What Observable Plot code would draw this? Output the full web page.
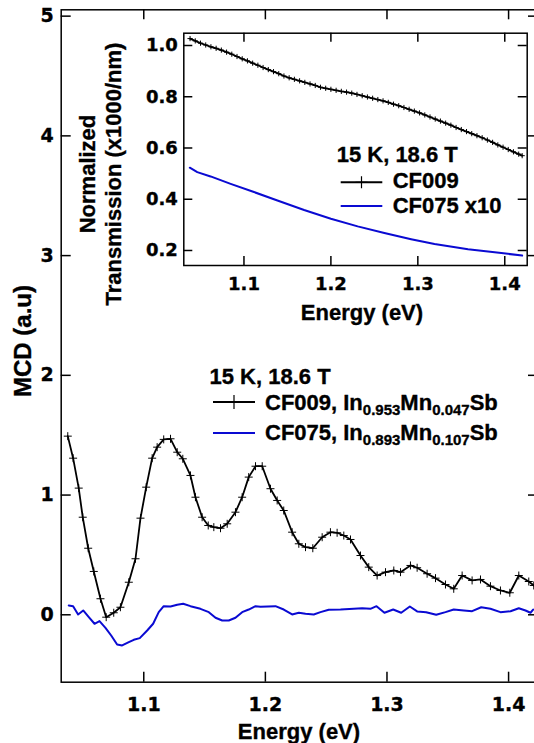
<!DOCTYPE html>
<html><head><meta charset="utf-8">
<script src="https://cdn.jsdelivr.net/npm/d3@7"></script>
<script src="https://cdn.jsdelivr.net/npm/@observablehq/plot@0.6"></script>
<style>
html,body{margin:0;padding:0;background:#fff;overflow:hidden;}
#fig{position:relative;width:534px;height:743px;overflow:hidden;background:#fff;}
#fig svg{position:absolute;left:0;top:0;max-width:none;}
#fig text{stroke:black;stroke-width:0.35px;}
</style></head><body><div id="fig"></div>
<script>
// ---------- data ----------
const mainXTicks = [1.1, 1.2, 1.3, 1.4];
const mainYTicks = [0, 1, 2, 3, 4, 5];
const insetXTicks = [1.1, 1.2, 1.3, 1.4];
const insetYTicks = [0.2, 0.4, 0.6, 0.8, 1.0];

// MCD, CF009 (In0.953Mn0.047Sb)
const cf009E = [1.0375,1.0419,1.0465,1.0498,1.0543,1.0589,1.0644,1.0691,1.0753,1.0808,1.0877,1.0932,1.0973,1.1020,1.1069,1.1110,1.1164,1.1220,1.1275,1.1321,1.1384,1.1425,1.1480,1.1530,1.1576,1.1631,1.1686,1.1754,1.1809,1.1863,1.1919,1.1974,1.2042,1.2097,1.2151,1.2220,1.2275,1.2330,1.2390,1.2467,1.2535,1.2590,1.2645,1.2700,1.2782,1.2850,1.2919,1.2988,1.3056,1.3111,1.3193,1.3248,1.3330,1.3399,1.3481,1.3549,1.3618,1.3700,1.3769,1.3851,1.3933,1.4010,1.4084,1.4166,1.4207];
const cf009MCD = [1.492,1.308,1.058,0.815,0.556,0.362,0.134,-0.020,0.017,0.063,0.272,0.468,0.807,1.066,1.308,1.400,1.465,1.470,1.358,1.303,1.164,0.982,0.815,0.746,0.732,0.723,0.760,0.857,0.982,1.150,1.241,1.241,1.053,0.955,0.871,0.690,0.593,0.565,0.556,0.648,0.690,0.685,0.662,0.629,0.495,0.398,0.328,0.356,0.370,0.356,0.412,0.393,0.343,0.306,0.253,0.217,0.328,0.287,0.295,0.239,0.203,0.184,0.328,0.278,0.245];

// MCD, CF075 (In0.893Mn0.107Sb)
const cf075E = [1.0383,1.0419,1.0460,1.0502,1.0548,1.0595,1.0636,1.0685,1.0732,1.0781,1.0822,1.0877,1.0918,1.0967,1.1028,1.1077,1.1123,1.1164,1.1220,1.1275,1.1324,1.1384,1.1466,1.1535,1.1590,1.1645,1.1699,1.1754,1.1809,1.1863,1.1919,1.1960,1.2083,1.2151,1.2220,1.2275,1.2330,1.2398,1.2453,1.2521,1.2618,1.2727,1.2796,1.2864,1.2914,1.2979,1.3051,1.3117,1.3188,1.3248,1.3322,1.3405,1.3481,1.3549,1.3632,1.3700,1.3775,1.3851,1.3933,1.4016,1.4084,1.4139,1.4180,1.4202];
const cf075MCD = [0.078,0.072,0.003,0.036,-0.020,-0.075,-0.053,-0.109,-0.173,-0.248,-0.256,-0.229,-0.209,-0.195,-0.131,-0.075,0.022,0.072,0.069,0.084,0.092,0.072,0.050,0.022,-0.025,-0.048,-0.048,-0.025,0.022,0.044,0.072,0.068,0.072,0.044,0.003,0.017,0.008,0.003,0.022,0.042,0.044,0.050,0.055,0.050,0.072,0.017,0.044,0.017,0.069,0.028,0.022,0.000,0.022,0.044,0.036,0.030,0.063,0.050,0.022,0.030,0.055,0.036,0.017,0.044];

// Inset: normalized transmission, CF009
const trans009E = [1.038,1.044,1.050,1.056,1.062,1.068,1.074,1.080,1.086,1.092,1.098,1.104,1.110,1.116,1.122,1.128,1.134,1.140,1.146,1.152,1.158,1.164,1.170,1.176,1.182,1.188,1.194,1.200,1.206,1.212,1.218,1.224,1.230,1.236,1.242,1.248,1.254,1.260,1.266,1.272,1.278,1.284,1.290,1.296,1.302,1.308,1.314,1.320,1.326,1.332,1.338,1.344,1.350,1.356,1.362,1.368,1.374,1.380,1.386,1.392,1.398,1.404,1.410,1.416,1.420];
const trans009T = [1.027,1.018,1.009,1.002,0.995,0.989,0.982,0.974,0.966,0.957,0.948,0.940,0.931,0.923,0.914,0.906,0.898,0.890,0.881,0.874,0.868,0.862,0.856,0.850,0.844,0.837,0.833,0.829,0.825,0.821,0.818,0.814,0.809,0.804,0.799,0.794,0.789,0.784,0.778,0.771,0.765,0.758,0.751,0.744,0.737,0.729,0.721,0.713,0.705,0.697,0.689,0.680,0.672,0.664,0.656,0.648,0.640,0.631,0.622,0.612,0.603,0.594,0.585,0.576,0.570];

// Inset: normalized transmission, CF075 x10
const trans075E = [1.0377,1.0463,1.0616,1.0847,1.1115,1.1385,1.1692,1.2000,1.2308,1.2615,1.2923,1.3192,1.3577,1.3960,1.4200];
const trans075T = [0.523,0.506,0.489,0.460,0.428,0.395,0.358,0.324,0.294,0.268,0.244,0.225,0.205,0.190,0.180];

const legendTitle = "15 K, 18.6 T";
const xTitle = "Energy (eV)";
const yTitle = "MCD (a.u)";
const insetYTitle = ["Normalized", "Transmission (x1000/nm)"];
const insetNames = ["CF009", "CF075 x10"];

// ---------- build ----------
const BLUE = "#0a0ad2";
const zip = (E, V) => E.map((e, i) => ({e, v: V[i]}));
const cf009 = zip(cf009E, cf009MCD), cf075 = zip(cf075E, cf075MCD);
const t009 = zip(trans009E, trans009T), t075 = zip(trans075E, trans075T);

const plusSymbol = {draw(ctx, size) { const r = Math.sqrt(size / Math.PI); ctx.moveTo(-r, 0); ctx.lineTo(r, 0); ctx.moveTo(0, -r); ctx.lineTo(0, r); }};
const baseStyle = {fontFamily: "DejaVu Sans", fontWeight: "bold", color: "black", background: "transparent", overflow: "visible", maxWidth: "none"};

// inward ticks on all four sides, drawn as tick marks inset from the frame
function inwardTicks(xt, yt, W, H, len, sw) {
  const id = d => d;
  return [
    Plot.tickX(xt, {x: id, insetTop: H - len, stroke: "black", strokeWidth: sw}),
    Plot.tickX(xt, {x: id, insetBottom: H - len, stroke: "black", strokeWidth: sw}),
    Plot.tickY(yt, {y: id, insetRight: W - len, stroke: "black", strokeWidth: sw}),
    Plot.tickY(yt, {y: id, insetLeft: W - len, stroke: "black", strokeWidth: sw})
  ];
}

const M = {w: 538, h: 743, l: 60.7, r: 0, t: 9.3, b: 61.3};
const main = Plot.plot({
  width: M.w, height: M.h,
  marginLeft: M.l, marginRight: M.r, marginTop: M.t, marginBottom: M.b,
  style: {...baseStyle, fontSize: "19px"},
  x: {domain: [1.0321, 1.4246]},
  y: {domain: [-0.563, 5.053]},
  marks: [
    ...inwardTicks(mainXTicks, mainYTicks, M.w - M.l - M.r, M.h - M.t - M.b, 10, 1.5),
    Plot.frame({stroke: "black", strokeWidth: 1.5}),
    Plot.axisX(mainXTicks, {anchor: "bottom", tickSize: 0, tickPadding: 15, tickFormat: d3.format(".1f"), label: null}),
    Plot.axisY(mainYTicks, {anchor: "left", tickSize: 0, tickPadding: 7.4, tickFormat: d3.format("d"), label: null}),
    Plot.line(cf075, {x: "e", y: "v", stroke: BLUE, strokeWidth: 2}),
    Plot.line(cf009, {x: "e", y: "v", stroke: "black", strokeWidth: 1.8}),
    Plot.dot(cf009, {x: "e", y: "v", symbol: plusSymbol, r: 4, stroke: "black", strokeWidth: 1, fill: "none"})
  ]
});

const I = {w: 534, h: 330, l: 183.3, r: 7.3, t: 32.7, b: 65};
const inset = Plot.plot({
  width: I.w, height: I.h,
  marginLeft: I.l, marginRight: I.r, marginTop: I.t, marginBottom: I.b,
  style: {...baseStyle, fontSize: "18px"},
  x: {domain: [1.0308, 1.4258]},
  y: {domain: [0.1414, 1.048]},
  marks: [
    ...inwardTicks(insetXTicks, insetYTicks, I.w - I.l - I.r, I.h - I.t - I.b, 9, 1.5),
    Plot.frame({stroke: "black", strokeWidth: 1.5}),
    Plot.axisX(insetXTicks, {anchor: "bottom", tickSize: 0, tickPadding: 12, tickFormat: d3.format(".1f"), label: null}),
    Plot.axisY(insetYTicks, {anchor: "left", tickSize: 0, tickPadding: 6, tickFormat: d3.format(".1f"), label: null}),
    Plot.line(t075, {x: "e", y: "v", stroke: BLUE, strokeWidth: 2}),
    Plot.line(t009, {x: "e", y: "v", stroke: "black", strokeWidth: 1.8}),
    Plot.dot(t009, {x: "e", y: "v", symbol: plusSymbol, r: 2.6, stroke: "black", strokeWidth: 1, fill: "none"})
  ]
});

const fig = document.getElementById("fig");
fig.appendChild(main);
fig.appendChild(inset);

// ---------- titles and legends ----------
const ov = d3.create("svg").attr("width", 534).attr("height", 743)
  .style("font-family", "'Liberation Sans', Arial, sans-serif").style("font-weight", "bold").style("font-size", "22px").attr("fill", "black");

ov.append("text").attr("x", 299).attr("y", 739).attr("text-anchor", "middle").text(xTitle);
ov.append("text").attr("transform", "translate(31,341) rotate(-90)").attr("text-anchor", "middle").attr("font-size", "24px").text(yTitle);
ov.append("text").attr("x", 362).attr("y", 320).attr("text-anchor", "middle").text(xTitle);
ov.append("text").attr("transform", "translate(95,174) rotate(-90)").attr("text-anchor", "middle").text(insetYTitle[0]);
ov.append("text").attr("transform", "translate(121,174) rotate(-90)").attr("text-anchor", "middle").text(insetYTitle[1]);

function plusAt(g, x, y, r) {
  g.append("path").attr("d", `M${x - r},${y}H${x + r}M${x},${y - r}V${y + r}`).attr("stroke", "black").attr("stroke-width", 1.2).attr("fill", "none");
}
function sample(g, x1, x2, y, color, withPlus, r) {
  g.append("line").attr("x1", x1).attr("x2", x2).attr("y1", y).attr("y2", y).attr("stroke", color).attr("stroke-width", 2);
  if (withPlus) plusAt(g, (x1 + x2) / 2, y, r);
}
function formula(t, parts) {
  parts.forEach(([s, sub], i) => {
    const ts = t.append("tspan").text(s);
    if (sub) ts.attr("font-size", "15px").attr("dy", 5);
    else if (i > 0 && parts[i - 1][1]) ts.attr("dy", -5);
  });
}

// main legend
ov.append("text").attr("x", 209.5).attr("y", 384).text(legendTitle);
sample(ov, 213, 255, 402, "black", true, 7);
formula(ov.append("text").attr("x", 265).attr("y", 409.5), [["CF009, In"], ["0.953", 1], ["Mn"], ["0.047", 1], ["Sb"]]);
sample(ov, 213, 255, 433, BLUE, false);
formula(ov.append("text").attr("x", 265).attr("y", 439.5), [["CF075, In"], ["0.893", 1], ["Mn"], ["0.107", 1], ["Sb"]]);

// inset legend
ov.append("text").attr("x", 336.7).attr("y", 161.7).text(legendTitle);
sample(ov, 340.7, 382.3, 182.3, "black", true, 6);
ov.append("text").attr("x", 392.7).attr("y", 188.3).text(insetNames[0]);
sample(ov, 340.7, 382.3, 206, BLUE, false);
ov.append("text").attr("x", 392.7).attr("y", 213.3).text(insetNames[1]);

fig.appendChild(ov.node());
</script></body></html>
